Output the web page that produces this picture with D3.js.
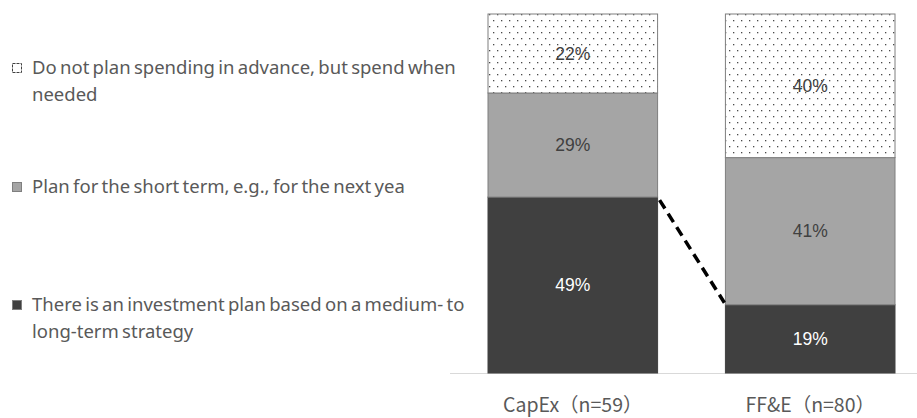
<!DOCTYPE html>
<html><head><meta charset="utf-8">
<script src="https://cdn.jsdelivr.net/npm/d3@7/dist/d3.min.js"></script>
<style>body{margin:0;background:#fff}svg{display:block}</style>
</head><body>
<svg id="c" width="917" height="418"></svg>
<script>
const categories = ["CapEx（n=59）", "FF&E（n=80）"];
const seriesNames = [
  "There is an investment plan based on a medium- to long-term strategy",
  "Plan for the short term, e.g., for the next yea",
  "Do not plan spending in advance, but spend when needed"
];
const longTerm = [49, 19];
const shortTerm = [29, 41];
const noPlan = [22, 40];
const legendLines = [
  ["Do not plan spending in advance, but spend when", "needed"],
  ["Plan for the short term, e.g., for the next yea"],
  ["There is an investment plan based on a medium- to", "long-term strategy"]
];

const svg = d3.select("#c");
const defs = svg.append("defs");
const pat = defs.append("pattern").attr("id","dots").attr("patternUnits","userSpaceOnUse")
  .attr("width",8).attr("height",12);
pat.append("rect").attr("width",8).attr("height",12).attr("fill","#fff");
pat.append("rect").attr("x",1).attr("y",2).attr("width",1.3).attr("height",1.3).attr("fill","#4a4a4a");
pat.append("rect").attr("x",5).attr("y",8).attr("width",1.3).attr("height",1.3).attr("fill","#4a4a4a");

const fills = ["#404040", "#a5a5a5", "url(#dots)"];
const labelColors = ["#ffffff", "#404040", "#404040"];

const x = d3.scaleBand().domain(categories).range([488, 895]).paddingInner(0.2857).paddingOuter(0);
const y = d3.scaleLinear().domain([0, 100]).range([373, 14]);

const data = categories.map((c, i) => ({cat: c, v: [longTerm[i], shortTerm[i], noPlan[i]]}));
const stack = d3.stack().keys([0,1,2]).value((d,k) => d.v[k]);
const layers = stack(data);

// baseline
svg.append("line").attr("x1",450).attr("x2",917).attr("y1",y(0)+0.5).attr("y2",y(0)+0.5)
  .attr("stroke","#d9d9d9").attr("stroke-width",1);

layers.forEach((layer, k) => {
  const g = svg.append("g");
  g.selectAll("rect").data(layer).join("rect")
    .attr("x", d => x(d.data.cat)).attr("width", x.bandwidth())
    .attr("y", d => y(d[1])).attr("height", d => y(d[0]) - y(d[1]))
    .attr("fill", fills[k]).attr("stroke", k === 0 ? "#404040" : "#7f7f7f").attr("stroke-width", 1);
  g.selectAll("text").data(layer).join("text")
    .attr("x", d => x(d.data.cat) + x.bandwidth()/2)
    .attr("y", d => (y(d[0]) + y(d[1]))/2)
    .attr("dy","0.35em").attr("text-anchor","middle")
    .attr("font-family","'Liberation Sans', Arial, sans-serif").attr("font-size",17.5)
    .attr("fill", labelColors[k])
    .text(d => (d[1]-d[0]) + "%");
});

// connector dashed line between top of long-term segments
svg.append("line")
  .attr("x1", x(categories[0]) + x.bandwidth() + 2).attr("y1", y(longTerm[0]) + 3)
  .attr("x2", x(categories[1]) - 1).attr("y2", y(longTerm[1]) - 2)
  .attr("stroke","#000").attr("stroke-width",3.5).attr("stroke-dasharray","10,6");

// category axis labels
svg.selectAll("text.cat").data(categories).join("text").attr("class","cat")
  .attr("x", d => x(d) + x.bandwidth()/2).attr("y", 405).attr("dy","0.35em")
  .attr("text-anchor","middle").attr("font-family","'Noto Sans CJK JP', sans-serif")
  .attr("font-size",19.5).attr("fill","#595959").text(d => d);

// legend
const legendY = [68, 187, 305];
const legendFill = [fills[2], fills[1], fills[0]];
legendLines.forEach((lines, i) => {
  const g = svg.append("g");
  g.append("rect").attr("x",12.5).attr("y",legendY[i]-4.5).attr("width",9).attr("height",9)
    .attr("fill", i === 0 ? "#fff" : legendFill[i]).attr("stroke", i === 0 ? "#404040" : "#7f7f7f")
    .attr("stroke-width",1).attr("stroke-dasharray", i === 0 ? "3,1" : null);
  lines.forEach((t, j) => {
    g.append("text").attr("x",32).attr("y",legendY[i] + j*27).attr("dy","0.35em")
      .attr("font-family","'Noto Sans', sans-serif").attr("font-size",18.5)
      .attr("word-spacing",-1.5)
      .attr("fill","#595959").text(t);
  });
});
</script>
</body></html>
